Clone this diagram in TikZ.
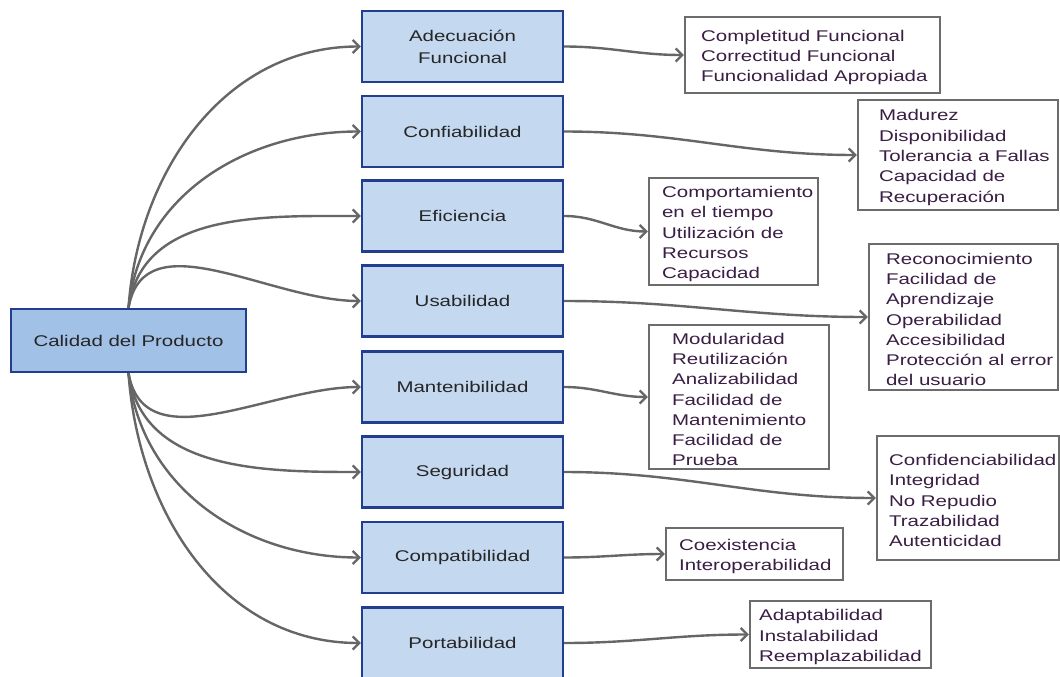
\documentclass[tikz,border=0pt]{standalone}
\usepackage{fontspec}
\setmainfont{Liberation Sans}[FakeStretch=1.32]
\usetikzlibrary{arrows.meta}
\definecolor{edgegray}{HTML}{666666}
\definecolor{boxblue}{HTML}{C4D8F0}
\definecolor{rootblue}{HTML}{A2C1E6}
\definecolor{navy}{HTML}{223E8F}
\definecolor{plum}{HTML}{3A1E44}
\definecolor{ink}{HTML}{262626}
\definecolor{framegray}{HTML}{6C6C6C}

\begin{document}
\begin{tikzpicture}[x=1pt,y=-1pt,
  every node/.style={font=\fontsize{15.5}{20.3}\selectfont},
  root/.style={draw=navy, line width=2.2pt, fill=rootblue, text=ink,
    minimum width=235pt, minimum height=63pt, inner sep=0pt},
  factor/.style={draw=navy, line width=2.2pt, fill=boxblue, text=ink,
    minimum width=201pt, minimum height=71pt, align=center, inner sep=0pt,
    font=\fontsize{15.5}{22}\selectfont},
  detail/.style={draw=framegray, line width=2.2pt, fill=white, inner sep=0pt},
  items/.style={anchor=west, align=left, text=plum, inner sep=0pt, yshift=-2.5pt},
  link/.style={draw=edgegray, line width=2.4pt,
    -{Straight Barb[length=6.5pt,width=13pt]}},
]
\path[use as bounding box] (0,0) rectangle (1060,677);

% root characteristic
\node[root] (root) at (128.5,340.5) {Calidad del Producto};

% quality characteristics
\node[factor] (f1) at (462.5,46.5)  {Adecuación\\Funcional};
\node[factor] (f2) at (462.5,131.5) {Confiabilidad};
\node[factor] (f3) at (462.5,216)   {Eficiencia};
\node[factor] (f4) at (462.5,301)   {Usabilidad};
\node[factor] (f5) at (462.5,387)   {Mantenibilidad};
\node[factor] (f6) at (462.5,472)   {Seguridad};
\node[factor] (f7) at (462.5,557.5) {Compatibilidad};
\node[factor] (f8) at (462.5,643)   {Portabilidad};

% sub-characteristic boxes
\node[detail, minimum width=255pt, minimum height=76pt] (d1) at (812.5,55) {};
\node[items] (d1t) at ([xshift=17pt]d1.west)
  {Completitud Funcional\\Correctitud Funcional\\Funcionalidad Apropiada};

\node[detail, minimum width=200pt, minimum height=110pt] (d2) at (958,155) {};
\node[items] (d2t) at ([xshift=22pt]d2.west)
  {Madurez\\Disponibilidad\\Tolerancia a Fallas\\Capacidad de\\Recuperación};

\node[detail, minimum width=169pt, minimum height=107pt] (d3) at (733.5,231.5) {};
\node[items] (d3t) at ([xshift=14pt]d3.west)
  {Comportamiento\\en el tiempo\\Utilización de\\Recursos\\Capacidad};

\node[detail, minimum width=189pt, minimum height=146pt] (d4) at (963.5,317) {};
\node[items] (d4t) at ([xshift=18pt]d4.west)
  {Reconocimiento\\Facilidad de\\Aprendizaje\\Operabilidad\\Accesibilidad\\Protección al error\\del usuario};

\node[detail, minimum width=180pt, minimum height=144pt] (d5) at (739,397) {};
\node[items] (d5t) at ([xshift=24pt]d5.west)
  {Modularidad\\Reutilización\\Analizabilidad\\Facilidad de\\Mantenimiento\\Facilidad de\\Prueba};

\node[detail, minimum width=182pt, minimum height=124pt] (d6) at (968,498) {};
\node[items] (d6t) at ([xshift=13pt]d6.west)
  {Confidenciabilidad\\Integridad\\No Repudio\\Trazabilidad\\Autenticidad};

\node[detail, minimum width=177pt, minimum height=52pt] (d7) at (754.5,554) {};
\node[items] (d7t) at ([xshift=14pt]d7.west)
  {Coexistencia\\Interoperabilidad};

\node[detail, minimum width=181pt, minimum height=67pt] (d8) at (840.5,634.5) {};
\node[items] (d8t) at ([xshift=10pt]d8.west)
  {Adaptabilidad\\Instalabilidad\\Reemplazabilidad};

% root to characteristics
\draw[link] (root.north) to[out=86,in=180] (f1.west);
\draw[link] (root.north) to[out=84,in=180] (f2.west);
\draw[link] (root.north) to[out=82,in=180] (f3.west);
\draw[link] (root.north) to[out=80,in=180] (f4.west);
\draw[link] (root.south) to[out=-80,in=180] (f5.west);
\draw[link] (root.south) to[out=-82,in=180] (f6.west);
\draw[link] (root.south) to[out=-84,in=180] (f7.west);
\draw[link] (root.south) to[out=-86,in=180] (f8.west);

% characteristics to sub-characteristics
\draw[link] (f1.east) to[out=0,in=180] (d1.west);
\draw[link] (f2.east) to[out=0,in=180] (d2.west);
\draw[link] (f3.east) to[out=0,in=180] (d3.west);
\draw[link] (f4.east) to[out=0,in=180] (d4.west);
\draw[link] (f5.east) to[out=0,in=180] (d5.west);
\draw[link] (f6.east) to[out=0,in=180] (d6.west);
\draw[link] (f7.east) to[out=0,in=180] (d7.west);
\draw[link] (f8.east) to[out=0,in=180] (d8.west);
\end{tikzpicture}
\end{document}
